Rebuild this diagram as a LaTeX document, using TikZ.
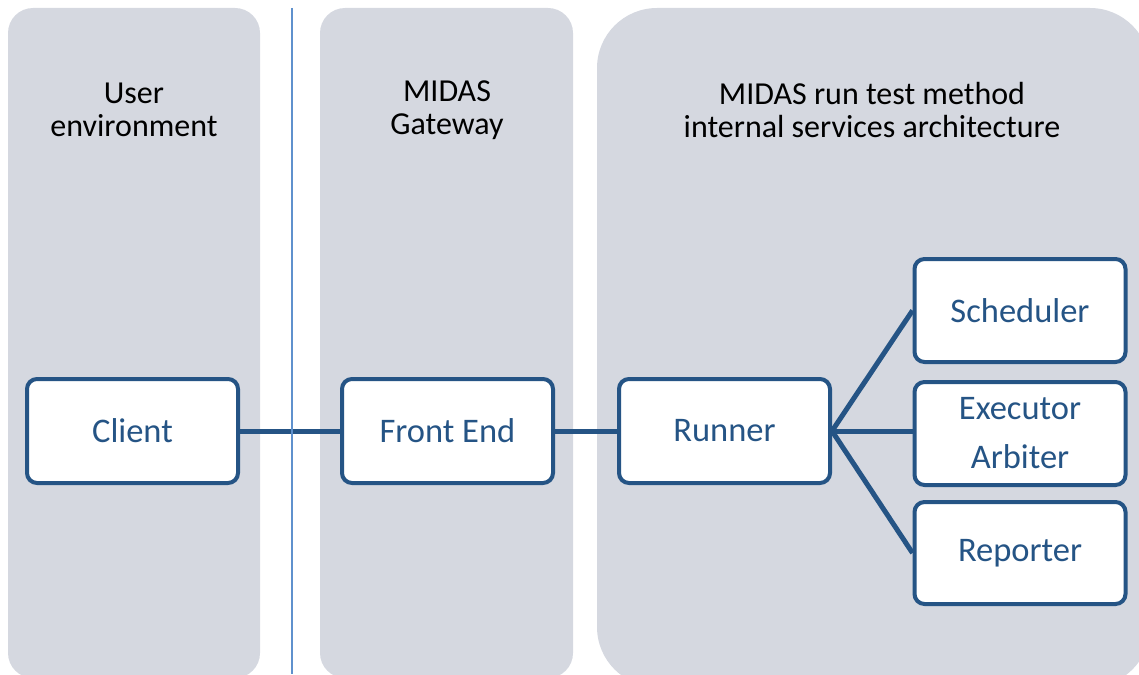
\documentclass[tikz,border=0pt]{standalone}
\usepackage{fontspec}
\setmainfont{Carlito}
\definecolor{panelgray}{RGB}{213,216,224}
\definecolor{boxblue}{RGB}{37,84,133}
\definecolor{sepblue}{RGB}{95,145,205}
\begin{document}
\begin{tikzpicture}[x=1pt,y=-1pt,
  panel/.style={fill=panelgray,draw=none},
  header/.style={align=center,text=black,font=\fontsize{32}{33}\selectfont,inner sep=0pt},
  svcbox/.style={draw=boxblue,line width=4pt,fill=white,rounded corners=10pt,
    minimum width=211pt,minimum height=104pt,text=boxblue,align=center,
    font=\fontsize{34.5}{49}\selectfont,inner sep=0pt},
  link/.style={draw=boxblue,line width=5pt}]
\useasboundingbox (0,0) rectangle (1139,674);
% panels
\fill[panel,rounded corners=25pt] (8,8) rectangle (260,678);
\fill[panel,rounded corners=25pt] (320,8) rectangle (573,678);
\fill[panel,rounded corners=60pt] (597,8) rectangle (1150,687);
% headers
\node[header] (h1) at (134,110) {User\\environment};
\node[header] (h2) at (447,110) {MIDAS\\Gateway};
\node[header] (h3) at (872,110) {MIDAS run test method\\internal services architecture};
% connectors (drawn first, boxes on top)
\coordinate (client-c) at (132.5,431);
\coordinate (front-c) at (447.5,431);
\coordinate (runner-c) at (724.5,431);
\draw[link] (client-c) -- (front-c);
\draw[link] (front-c) -- (runner-c);
% separator
\coordinate (septop) at (292,8);
\coordinate (sepbot) at (292,674);
\draw[sepblue,line width=1.3pt] (septop) -- (sepbot);
% boxes
\node[svcbox] (client) at (client-c) {Client};
\node[svcbox] (front) at (front-c) {Front End};
\node[svcbox] (runner) at (runner-c) {Runner};
\node[svcbox,minimum height=103pt] (sched) at (1020,310.5) {Scheduler};
\node[svcbox,minimum height=103pt] (exec) at (1020,433.5) {Executor\\Arbiter};
\node[svcbox,minimum height=102pt] (rep) at (1020,553) {Reporter};
\draw[link] (runner.east) -- (sched.west);
\draw[link] (runner.east) -- (runner.east -| exec.west);
\draw[link] (runner.east) -- (rep.west);
\end{tikzpicture}
\end{document}
